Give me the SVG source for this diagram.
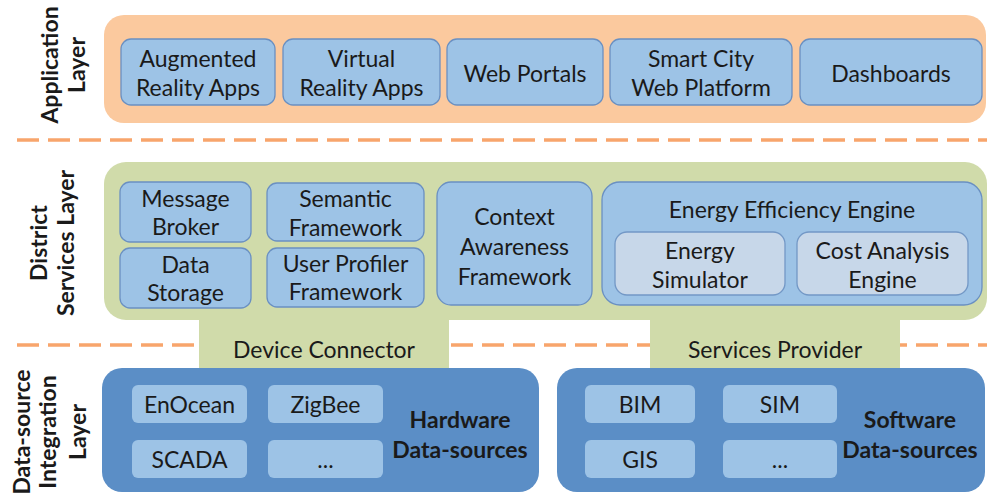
<svg xmlns="http://www.w3.org/2000/svg" width="987" height="495" viewBox="0 0 987 495">
<style>
text{font-family:Lato,"Open Sans",sans-serif;font-size:23px;fill:#1a1a1a;text-anchor:middle}
.side{font-weight:bold;font-size:23px}
.bold{font-weight:bold}
.box{fill:#9DC3E6;stroke:#6A90C2;stroke-width:1.3}
.sub{fill:#C7D7E9;stroke:#7398C6;stroke-width:1.3}
.hw{fill:#9DC3E6}
.dark{fill:#5B8EC6}
.green{fill:#D0DBAA}
.dash{stroke:#F8A56C;stroke-width:3.5;stroke-dasharray:22 9;fill:none}
</style>

<g id="separators">
<line class="dash" x1="17" y1="140" x2="987" y2="140"/>
<line class="dash" x1="17" y1="345" x2="987" y2="345"/>
</g>

<g id="side-labels">
<text class="side" transform="translate(58,65) rotate(-90)">Application</text>
<text class="side" transform="translate(85,65) rotate(-90)">Layer</text>
<text class="side" transform="translate(47,243) rotate(-90)">District</text>
<text class="side" transform="translate(74,243) rotate(-90)">Services Layer</text>
<text class="side" transform="translate(30,432) rotate(-90)">Data-source</text>
<text class="side" transform="translate(56,432) rotate(-90)">Integration</text>
<text class="side" transform="translate(86,432) rotate(-90)">Layer</text>
</g>

<g id="application-layer">
<rect x="104" y="15" width="882" height="108" rx="20" fill="#FBC99E"/>
</g>
<g id="augmented-reality-apps"><rect class="box" x="121" y="39" width="154" height="66" rx="10"/><text x="198" y="67">Augmented</text><text x="198" y="96">Reality Apps</text></g>
<g id="virtual-reality-apps"><rect class="box" x="283" y="39" width="157" height="66" rx="10"/><text x="361.5" y="67">Virtual</text><text x="361.5" y="96">Reality Apps</text></g>
<g id="web-portals"><rect class="box" x="447" y="39" width="156" height="66" rx="10"/><text x="525" y="82">Web Portals</text></g>
<g id="smart-city-web-platform"><rect class="box" x="610" y="39" width="182" height="66" rx="10"/><text x="701" y="67">Smart City</text><text x="701" y="96">Web Platform</text></g>
<g id="dashboards"><rect class="box" x="800" y="39" width="182" height="66" rx="10"/><text x="891" y="82">Dashboards</text></g>

<g id="district-services-layer">
<rect class="green" x="104" y="162" width="883" height="158" rx="22"/>
<rect class="green" x="199" y="300" width="250" height="68"/>
<rect class="green" x="650" y="300" width="250" height="68"/>
</g>
<g id="device-connector"><text x="324" y="358">Device Connector</text></g>
<g id="services-provider"><text x="775" y="358">Services Provider</text></g>

<g id="message-broker"><rect class="box" x="120" y="182" width="131" height="60" rx="10"/><text x="185.5" y="207">Message</text><text x="185.5" y="235">Broker</text></g>
<g id="data-storage"><rect class="box" x="120" y="248" width="131" height="60" rx="10"/><text x="185.5" y="273">Data</text><text x="185.5" y="301">Storage</text></g>
<g id="semantic-framework"><rect class="box" x="267" y="183" width="157" height="58" rx="10"/><text x="345.5" y="207">Semantic</text><text x="345.5" y="236">Framework</text></g>
<g id="user-profiler-framework"><rect class="box" x="267" y="248" width="157" height="59" rx="10"/><text x="345.5" y="272">User Profiler</text><text x="345.5" y="300">Framework</text></g>
<g id="context-awareness-framework"><rect class="box" x="437" y="182" width="155" height="123" rx="14"/><text x="514.5" y="225">Context</text><text x="514.5" y="255">Awareness</text><text x="514.5" y="285">Framework</text></g>
<g id="energy-efficiency-engine"><rect class="box" x="602" y="182" width="380" height="123" rx="18"/><text x="792" y="218">Energy Efficiency Engine</text></g>
<g id="energy-simulator"><rect class="sub" x="615" y="232" width="170" height="63" rx="12"/><text x="700" y="259">Energy</text><text x="700" y="288">Simulator</text></g>
<g id="cost-analysis-engine"><rect class="sub" x="797" y="232" width="171" height="63" rx="12"/><text x="882.5" y="259">Cost Analysis</text><text x="882.5" y="288">Engine</text></g>

<g id="hardware-data-sources"><rect class="dark" x="102" y="368" width="437" height="124" rx="20"/><text class="bold" x="460" y="428">Hardware</text><text class="bold" x="460" y="458">Data-sources</text></g>
<g id="enocean"><rect class="hw" x="132" y="385" width="115" height="38" rx="6"/><text x="189.5" y="413">EnOcean</text></g>
<g id="zigbee"><rect class="hw" x="268" y="385" width="115" height="38" rx="6"/><text x="325.5" y="413">ZigBee</text></g>
<g id="scada"><rect class="hw" x="132" y="440" width="115" height="38" rx="6"/><text x="189.5" y="468">SCADA</text></g>
<g id="hw-more"><rect class="hw" x="268" y="440" width="115" height="38" rx="6"/><text x="325.5" y="468">...</text></g>

<g id="software-data-sources"><rect class="dark" x="557" y="368" width="428" height="124" rx="20"/><text class="bold" x="910" y="428">Software</text><text class="bold" x="910" y="458">Data-sources</text></g>
<g id="bim"><rect class="hw" x="585" y="385" width="110" height="38" rx="6"/><text x="640" y="413">BIM</text></g>
<g id="sim"><rect class="hw" x="723" y="385" width="114" height="38" rx="6"/><text x="780" y="413">SIM</text></g>
<g id="gis"><rect class="hw" x="585" y="440" width="110" height="38" rx="6"/><text x="640" y="468">GIS</text></g>
<g id="sw-more"><rect class="hw" x="723" y="440" width="114" height="38" rx="6"/><text x="780" y="468">...</text></g>

<g id="connectors"></g>
</svg>
